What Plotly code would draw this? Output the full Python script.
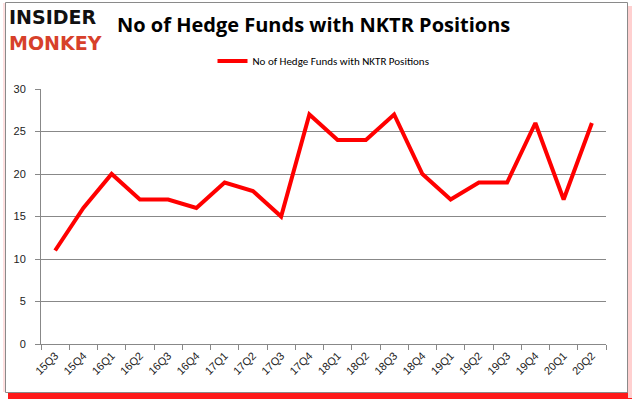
import plotly.graph_objects as go

quarters = ["15Q3","15Q4","16Q1","16Q2","16Q3","16Q4","17Q1","17Q2","17Q3","17Q4",
            "18Q1","18Q2","18Q3","18Q4","19Q1","19Q2","19Q3","19Q4","20Q1","20Q2"]
funds = [11,16,20,17,17,16,19,18,15,27,24,24,27,20,17,19,19,26,17,26]
series_name = "No of Hedge Funds with NKTR Positions"

fig = go.Figure()
fig.add_trace(go.Scatter(x=quarters, y=funds, mode="lines", name=series_name,
                         line=dict(color="#ff0000", width=4)))

W, H = 635, 405
L, R, T, B = 41, 29, 89, 61

def px(x): return (x - L) / (W - L - R)
def py(y): return (H - B - y) / (H - T - B)

shapes = [
    dict(type="rect", xref="paper", yref="paper", x0=px(8), x1=px(632), y0=py(399), y1=py(392),
         fillcolor="#ff1a1a", line=dict(width=0), layer="above"),
    dict(type="rect", xref="paper", yref="paper", x0=px(628), x1=px(632), y0=py(398), y1=py(6),
         fillcolor="#ffd0d0", line=dict(width=0), layer="above"),
    dict(type="rect", xref="paper", yref="paper", x0=px(3), x1=px(6), y0=py(392), y1=py(3),
         fillcolor="#ffe0e0", line=dict(width=0), layer="above"),
    dict(type="rect", xref="paper", yref="paper", x0=px(5.5), x1=px(627.5), y0=py(392.5), y1=py(2.5),
         fillcolor="rgba(0,0,0,0)", line=dict(color="#8a8a8a", width=1), layer="above"),
]

fig.update_layout(
    width=W, height=H,
    margin=dict(l=L, r=R, t=T, b=B),
    paper_bgcolor="white", plot_bgcolor="white",
    showlegend=True,
    legend=dict(orientation="h", x=0.5, xanchor="center", y=py(61), yanchor="middle",
                font=dict(family="Carlito, Liberation Sans, sans-serif", size=11, color="#000"),
                bgcolor="rgba(0,0,0,0)"),
    xaxis=dict(type="category", range=[-0.5, 19.5], showgrid=False, showline=True, linecolor="#888888",
               ticks="outside", ticklen=5, tickcolor="#888888", tickangle=-45, tickson="boundaries",
               tickfont=dict(family="Liberation Sans, sans-serif", size=11, color="#222")),
    yaxis=dict(range=[0, 30], dtick=5, showgrid=True, gridcolor="#888888", gridwidth=1,
               showline=True, linecolor="#888888", ticks="outside", ticklen=5, tickcolor="#888888",
               zeroline=False, ticklabelstandoff=7,
               tickfont=dict(family="Liberation Sans, sans-serif", size=11, color="#222")),
    shapes=shapes,
    annotations=[
        dict(text="<b>No of Hedge Funds with NKTR Positions</b>", xref="paper", yref="paper",
             x=px(115), y=py(24), xanchor="left", yanchor="middle", showarrow=False,
             font=dict(family="Open Sans, sans-serif", size=20, color="#000")),
        dict(text="<b>INSIDER</b>", xref="paper", yref="paper", x=px(7), y=py(17),
             xanchor="left", yanchor="middle", showarrow=False,
             font=dict(family="DejaVu Sans, sans-serif", size=19, color="#111")),
        dict(text="<b>MONKEY</b>", xref="paper", yref="paper", x=px(7), y=py(43),
             xanchor="left", yanchor="middle", showarrow=False,
             font=dict(family="DejaVu Sans, sans-serif", size=19, color="#d7402a")),
    ],
)

fig.write_html("out.html", config={"displayModeBar": False},
               post_script="document.body.style.margin='0';document.body.style.overflow='hidden';")
